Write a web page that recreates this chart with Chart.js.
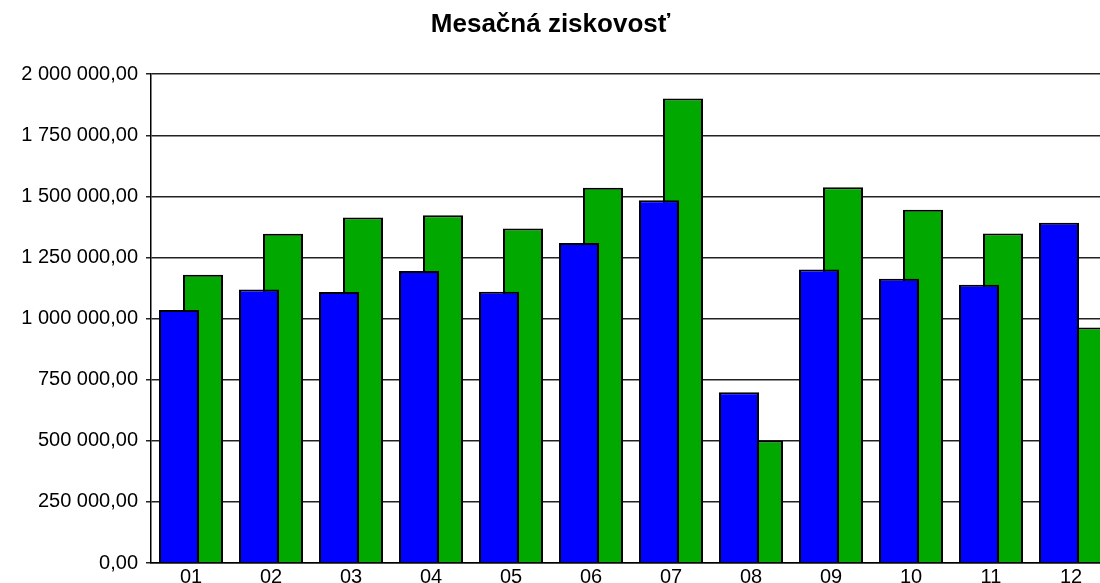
<!DOCTYPE html>
<html>
<head>
<meta charset="utf-8">
<title>Mesačná ziskovosť</title>
<script src="https://cdn.jsdelivr.net/npm/chart.js@4"></script>
<style>
  html, body { margin: 0; padding: 0; background: #fff; overflow: hidden; }
  canvas { display: block; }
</style>
</head>
<body>
<canvas id="chart" width="1111" height="591"></canvas>
<script>
// monthly data
var months = ["01", "02", "03", "04", "05", "06", "07", "08", "09", "10", "11", "12"];
var blueValues = [1035000, 1119000, 1109000, 1195000, 1110000, 1309000, 1484000, 699000, 1201000, 1163000, 1139000, 1392000];
var greenValues = [1179000, 1347000, 1414000, 1423000, 1369000, 1535000, 1901000, 501000, 1537000, 1445000, 1348000, 964000];
var yMin = 0;
var yMax = 2000000;
var yStep = 250000;

function formatNum(v) {
	var parts = Number(v).toFixed(2).split(".");
	var intPart = parts[0].replace(/\B(?=(\d{3})+(?!\d))/g, " ");
	return intPart + "," + parts[1];
}

// the plot runs past the right edge of the window, keep the title centred on the window
var shiftTitle = {
	id: "shiftTitle",
	afterLayout: function(chart) {
		var t = chart.titleBlock;
		if (t) {
			t.left -= 5;
			t.right -= 5;
		}
	}
};

var ctx = document.getElementById("chart").getContext("2d");
var myChart = new Chart(ctx, {
	type: "bar",
	data: {
		labels: months,
		datasets: [
			{
				label: "Séria 1",
				data: blueValues,
				backgroundColor: "#0000ff",
				borderColor: "#000",
				borderWidth: 2
			},
			{
				label: "Séria 2",
				data: greenValues,
				backgroundColor: "#00a800",
				borderColor: "#000",
				borderWidth: 2
			}
		]
	},
	options: {
		responsive: false,
		animation: false,
		devicePixelRatio: 1,
		// bars wider than their slot so they overlap like the original
		categoryPercentage: 0.6,
		barPercentage: 1.667,
		layout: {
			padding: 0
		},
		plugins: {
			legend: { display: false },
			tooltip: { enabled: false },
			title: {
				display: true,
				text: "Mesačná ziskovosť",
				color: "#000",
				font: { family: "'Liberation Sans', Arial, sans-serif", size: 26, weight: "bold" },
				padding: { top: 9, bottom: 34 }
			}
		},
		scales: {
			x: {
				grid: { display: false, drawTicks: false },
				border: { display: true, color: "#000", width: 1.5 },
				ticks: {
					color: "#000",
					padding: 2,
					maxRotation: 0,
					font: { family: "'Liberation Sans', Arial, sans-serif", size: 20 }
				}
			},
			y: {
				min: yMin,
				max: yMax,
				afterFit: function(scale) { scale.width = 151; },
				grid: { color: "#222", lineWidth: 1.5, tickLength: 5 },
				border: { display: true, color: "#000", width: 1.5 },
				ticks: {
					stepSize: yStep,
					color: "#000",
					padding: 8,
					font: { family: "'Liberation Sans', Arial, sans-serif", size: 20 },
					callback: function(value) { return formatNum(value); }
				}
			}
		}
	},
	plugins: [shiftTitle]
});
</script>
</body>
</html>
